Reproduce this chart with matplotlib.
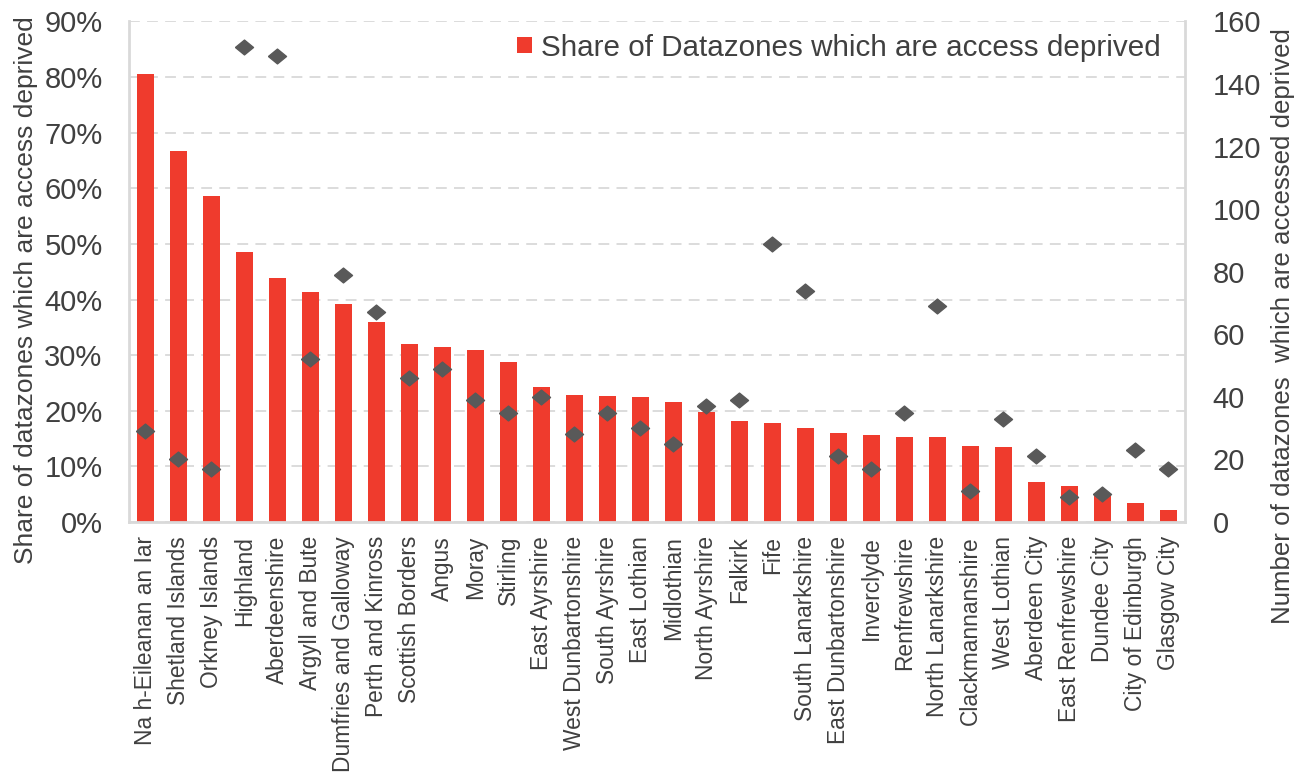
import matplotlib.pyplot as plt
from matplotlib.ticker import PercentFormatter

plt.rcParams['font.family'] = ['Liberation Sans', 'DejaVu Sans']

# council areas, sorted by share of access-deprived datazones
councils = ['Na h-Eileanan an Iar', 'Shetland Islands', 'Orkney Islands', 'Highland',
            'Aberdeenshire', 'Argyll and Bute', 'Dumfries and Galloway', 'Perth and Kinross',
            'Scottish Borders', 'Angus', 'Moray', 'Stirling', 'East Ayrshire',
            'West Dunbartonshire', 'South Ayrshire', 'East Lothian', 'Midlothian',
            'North Ayrshire', 'Falkirk', 'Fife', 'South Lanarkshire', 'East Dunbartonshire',
            'Inverclyde', 'Renfrewshire', 'North Lanarkshire', 'Clackmannanshire',
            'West Lothian', 'Aberdeen City', 'East Renfrewshire', 'Dundee City',
            'City of Edinburgh', 'Glasgow City']

# share of datazones which are access deprived (%)
share_pct = [80.6, 66.7, 58.6, 48.6, 43.8, 41.4, 39.2, 35.9, 32.0, 31.4,
             30.9, 28.8, 24.3, 22.9, 22.6, 22.4, 21.6, 19.7, 18.2, 17.8,
             16.9, 16.0, 15.6, 15.3, 15.3, 13.7, 13.5, 7.2, 6.4, 4.8,
             3.5, 2.1]

# number of datazones which are access deprived
count_dz = [29, 20, 17, 152, 149, 52, 79, 67, 46, 49,
            39, 35, 40, 28, 35, 30, 25, 37, 39, 89,
            74, 21, 17, 35, 69, 10, 33, 21, 8, 9,
            23, 17]

red = '#EF3B2D'
grey_mark = '#595959'
text_col = '#404040'
light = '#D9D9D9'

fig = plt.figure(figsize=(13.12, 7.73), dpi=100)
ax = fig.add_axes([0.0983, 0.3247, 0.8049, 0.6475])
ax2 = ax.twinx()

x = list(range(len(councils)))
ax.bar(x, share_pct, width=0.52, color=red, zorder=2,
       label='Share of Datazones which are access deprived')

diamond = [(-1, 0), (0, 0.82), (1, 0), (0, -0.82), (-1, 0)]
ax2.plot(x, count_dz, linestyle='none', marker=diamond, markersize=13,
         color=grey_mark, zorder=3)

# left axis
ax.set_xlim(-0.5, len(councils) - 0.5)
ax.set_ylim(0, 90)
ax.set_yticks(range(0, 91, 10))
ax.yaxis.set_major_formatter(PercentFormatter(decimals=0))
ax.set_axisbelow(True)
ax.grid(axis='y', color=light, linestyle=(0, (6, 4)), linewidth=1.3)
ax.set_xticks(x)
ax.set_xticklabels(councils, rotation=90, fontsize=16.4, color=text_col)
ax.tick_params(axis='x', length=0, pad=10)
ax.tick_params(axis='y', length=0, pad=19, labelsize=21, labelcolor=text_col)
ax.set_ylabel('Share of datazones which are access deprived', fontsize=19, color=text_col)
ax.yaxis.set_label_coords(-0.086, 0.4635)

# right axis
ax2.set_ylim(0, 160)
ax2.set_yticks(range(0, 161, 20))
ax2.tick_params(axis='y', length=0, pad=20, labelsize=21, labelcolor=text_col)
ax2.set_ylabel('Number of datazones  which are accessed deprived', fontsize=18.6, color=text_col)
ax2.yaxis.set_label_coords(1.081, 0.392)

for a in (ax, ax2):
    a.spines['top'].set_visible(False)
ax.spines['right'].set_visible(False)
ax.spines['left'].set_color(light)
ax.spines['bottom'].set_color(light)
ax.spines['left'].set_linewidth(2)
ax.spines['bottom'].set_linewidth(2)
ax2.spines['left'].set_visible(False)
ax2.spines['bottom'].set_visible(False)
ax2.spines['right'].set_color(light)
ax2.spines['right'].set_linewidth(2)

leg = ax.legend(loc='upper left', bbox_to_anchor=(0.3674, 0.976), frameon=False,
                fontsize=21.3, handlelength=0.5, handleheight=0.5, handletextpad=0.3,
                borderpad=0, borderaxespad=0)
for t in leg.get_texts():
    t.set_color(text_col)

fig.savefig('out.png', dpi=100)
